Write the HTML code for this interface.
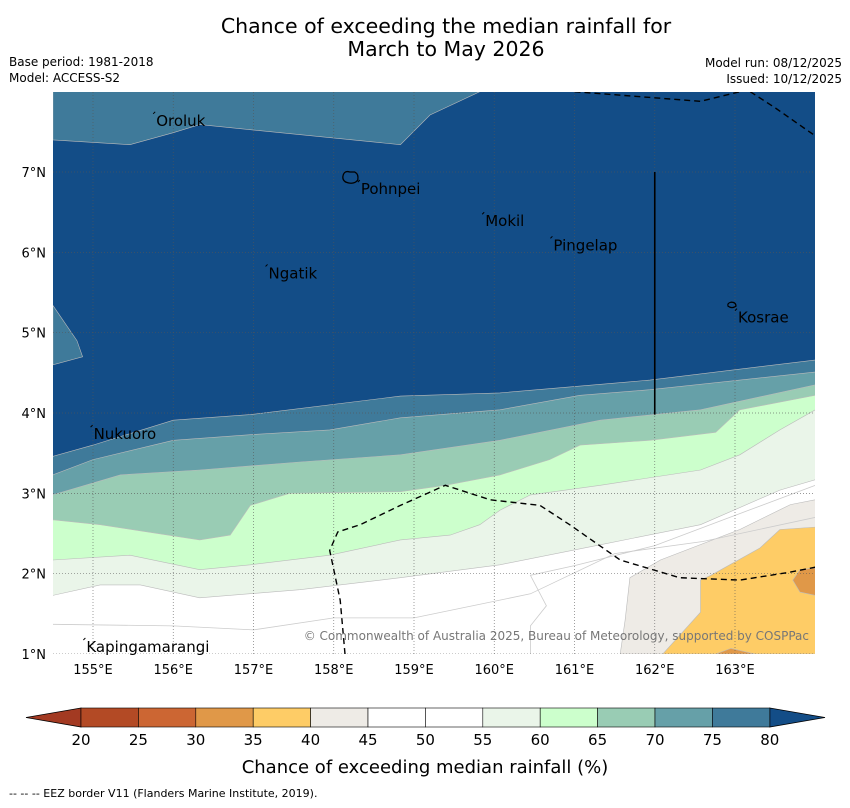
<!DOCTYPE html>
<html><head><meta charset="utf-8"><style>
body{margin:0;background:#fff;width:850px;height:804px;overflow:hidden;font-family:"DejaVu Sans","Liberation Sans",sans-serif}
svg text{font-family:"DejaVu Sans","Liberation Sans",sans-serif}
</style></head><body>
<svg id="c" width="850" height="804" viewBox="0 0 850 804" xmlns="http://www.w3.org/2000/svg">
<text x="446" y="33" font-size="20.5" text-anchor="middle">Chance of exceeding the median rainfall for</text>
<text x="446" y="56" font-size="20.5" text-anchor="middle">March to May 2026</text>
<text x="9" y="66" font-size="12">Base period: 1981-2018</text>
<text x="9" y="82" font-size="12">Model: ACCESS-S2</text>
<text x="842" y="67" font-size="12" text-anchor="end">Model run: 08/12/2025</text>
<text x="842" y="83" font-size="12" text-anchor="end">Issued: 10/12/2025</text>
<defs><clipPath id="mc"><rect x="53" y="92" width="762" height="562"/></clipPath></defs>
<g id="map" clip-path="url(#mc)"></g>
<g id="over"></g>
<text x="809" y="640" font-size="12" fill="#777" text-anchor="end">© Commonwealth of Australia 2025, Bureau of Meteorology, supported by COSPPac</text>
<g id="cbar"></g>
<text x="425" y="773" font-size="18" text-anchor="middle">Chance of exceeding median rainfall (%)</text>
<text x="9" y="797" font-size="11">--  --  -- EEZ border V11 (Flanders Marine Institute, 2019).</text>
</svg>
<script>
const lonTicks=[155,156,157,158,159,160,161,162,163];
const latTicks=[1,2,3,4,5,6,7];
const levels=[20,25,30,35,40,45,50,55,60,65,70,75,80];
const levelColors=["#b34a25","#cc6633","#e09848","#fecc66","#eeebe6","#ffffff","#ffffff","#eaf5e9","#ccffcc","#99ccb4","#66a0a8","#3f7a9a"];
const lowColor="#a33a22", highColor="#134d87";
const c80=[[154.5,3.46],[155,3.6],[156,3.91],[156.96,3.98],[158.83,4.21],[160.07,4.25],[161.94,4.41],[164,4.66]];
const c75=[[154.5,3.23],[155,3.42],[156,3.66],[156.96,3.73],[157.95,3.79],[158.83,3.94],[160.07,4.04],[161.07,4.22],[161.94,4.29],[164,4.51]];
const c70=[[154.5,2.98],[155.34,3.23],[156.33,3.29],[157.58,3.39],[158.83,3.48],[160.07,3.66],[161.32,3.91],[162.57,4.04],[164,4.35]];
const c65=[[154.5,2.67],[155.09,2.61],[156.33,2.42],[156.71,2.48],[156.96,2.85],[157.45,3.0],[158.83,3.02],[159.39,3.1],[160.07,3.23],[160.69,3.42],[161.07,3.6],[161.94,3.66],[162.76,3.76],[163.06,4.04],[164,4.22]];
const c60=[[154.5,2.17],[155.46,2.23],[156.33,2.05],[156.96,2.11],[157.95,2.23],[158.83,2.42],[159.45,2.48],[159.82,2.61],[160.07,2.79],[160.45,2.98],[161.32,3.1],[162.57,3.29],[163.06,3.48],[163.56,3.79],[164,4.04]];
const c55=[[154.5,1.73],[155.09,1.86],[155.59,1.86],[156.33,1.7],[157.58,1.8],[158.83,1.95],[160.07,2.11],[161.32,2.36],[162.57,2.61],[163.56,3.04],[164,3.17]];
const r40=[[161.57,1.0],[161.63,1.42],[161.69,1.95],[162.07,2.17],[163.06,2.55],[163.69,2.86],[164,2.92],[164,1.0]];
const r35=[[162.1,1.0],[162.57,1.52],[162.57,1.92],[162.7,1.98],[163.31,2.32],[163.56,2.55],[164,2.58],[164,1.0]];
const r30a=[[163.72,1.92],[163.81,2.05],[164,2.07],[164,1.73],[163.81,1.77]];
const r30b=[[162.76,1.0],[162.95,1.07],[163.25,1.0]];
const topBand=[[154.5,8],[154.5,7.4],[155.46,7.34],[156,7.49],[156.33,7.59],[158.83,7.34],[159.2,7.71],[159.82,8]];
const leftBulge=[[154.5,5.34],[154.8,4.9],[154.87,4.7],[154.5,4.6]];
const eez1=[[158.14,1.0],[158.08,1.67],[157.95,2.29],[158.05,2.52],[158.33,2.61],[158.83,2.85],[159.39,3.1],[159.95,2.92],[160.57,2.85],[160.94,2.61],[161.57,2.17],[162.31,1.95],[163.06,1.92],[163.69,2.02],[164.0,2.08]];
const eez2=[[161.0,8.0],[162.57,7.88],[163.06,8.0]];
const eez3=[[163.19,8.0],[163.5,7.8],[164,7.45]];
const places=[["Oroluk",155.75,7.65],["Pohnpei",158.3,6.8],["Mokil",159.85,6.4],["Pingelap",160.7,6.1],["Ngatik",157.15,5.75],["Kosrae",163.0,5.2],["Nukuoro",154.97,3.75],["Kapingamarangi",154.88,1.1]];

const X=lon=>93+(lon-155)*80.25, Y=lat=>654-(lat-1)*80.33;
const NS="http://www.w3.org/2000/svg";
function mk(tag,attrs,parent){const e=document.createElementNS(NS,tag);for(const k in attrs)e.setAttribute(k,attrs[k]);parent.appendChild(e);return e;}
const pts=a=>a.map(p=>X(p[0]).toFixed(1)+","+Y(p[1]).toFixed(1)).join(" ");
const map=document.getElementById('map'), over=document.getElementById('over');
let r=mk('rect',{x:53,y:92,width:762,height:562,fill:highColor},map);


function below(c,col,name){const p=c.concat([[164.5,0.5],[154,0.5]]);const e=mk('polygon',{points:pts(p),fill:col,stroke:"#bbb","stroke-width":0.6},map);

}
below(c80,levelColors[11],'band-75-80');
below(c75,levelColors[10],'band-70-75');
below(c70,levelColors[9],'band-65-70');
below(c65,levelColors[8],'band-60-65');
below(c60,levelColors[7],'band-55-60');
below(c55,levelColors[6],'band-50-55');
function region(a,col,name){const e=mk('polygon',{points:pts(a),fill:col,stroke:"#bbb","stroke-width":0.6},map);

}
region(topBand,levelColors[11],'band-75-80-north');
region(leftBulge,levelColors[11],'band-75-80-west');
region(r40,levelColors[4],'band-40-45');
region(r35,levelColors[3],'band-35-40');
region(r30a,levelColors[2],'band-30-35-east');
region(r30b,levelColors[2],'band-30-35-south');
let l=mk('polyline',{points:pts([[154.5,1.37],[156,1.35],[157,1.3],[158,1.45],[159,1.45],[160.45,1.75],[161.5,2.25],[162.6,2.4],[164,2.7]]),fill:"none",stroke:"#ccc","stroke-width":0.8},map);


l=mk('polyline',{points:pts([[160.45,1.0],[160.45,1.35],[160.65,1.6],[160.45,1.98],[161.0,2.1],[162,2.35],[163.2,2.8],[164,3.1]]),fill:"none",stroke:"#ccc","stroke-width":0.8},map);


lonTicks.forEach(v=>{const g=mk('line',{x1:X(v),x2:X(v),y1:92,y2:654,stroke:"#555","stroke-width":0.7,"stroke-dasharray":"1,2",opacity:0.8},map);

});
latTicks.forEach(v=>{const g=mk('line',{x1:53,x2:815,y1:Y(v),y2:Y(v),stroke:"#555","stroke-width":0.7,"stroke-dasharray":"1,2",opacity:0.8},map);

});
[eez1,eez2,eez3].forEach(a=>{const e=mk('polyline',{points:pts(a),fill:"none",stroke:"#000","stroke-width":1.4,"stroke-dasharray":"6,4"},map);

});
let v=mk('line',{x1:X(162),x2:X(162),y1:Y(7),y2:Y(3.98),stroke:"#000","stroke-width":1.6},map);


let is=mk('path',{d:`M${X(158.2)},${Y(7.0)} q-6,-2 -7,5 q0,5 6,6 q6,1 9,-3 q1,-6 -3,-8 z`,fill:"none",stroke:"#000","stroke-width":1.3},map);


is=mk('path',{d:`M${X(162.95)},${Y(5.38)} q-4,1 -3,4 q4,3 8,0 q0,-4 -5,-4 z`,fill:"none",stroke:"#000","stroke-width":1.2},map);


places.forEach(p=>{const t=mk('text',{x:X(p[1])+3,y:Y(p[2])+6,"font-size":15,fill:"#000"},over);t.textContent=p[0];


const d=mk('line',{x1:X(p[1]),y1:Y(p[2])-6,x2:X(p[1])+2,y2:Y(p[2])-8,stroke:"#000","stroke-width":1},over);

});
lonTicks.forEach(v=>{const t=mk('text',{x:X(v),y:674,"font-size":13,"text-anchor":"middle"},over);t.textContent=v+"°E";

});
latTicks.forEach(v=>{const t=mk('text',{x:46,y:Y(v)+5,"font-size":13,"text-anchor":"end"},over);t.textContent=v+"°N";

});
const cb=document.getElementById('cbar');
const cx=l=>81+(l-20)*11.48, cy=708, ch=19;
let a=mk('polygon',{points:`${cx(20)},${cy} 26,${cy+ch/2} ${cx(20)},${cy+ch}`,fill:lowColor,stroke:"#000","stroke-width":0.8},cb);


a=mk('polygon',{points:`${cx(80)},${cy} 825,${cy+ch/2} ${cx(80)},${cy+ch}`,fill:highColor,stroke:"#000","stroke-width":0.8},cb);


levelColors.forEach((c,i)=>{const b=mk('rect',{x:cx(levels[i]),y:cy,width:cx(levels[i+1])-cx(levels[i]),height:ch,fill:c,stroke:"#000","stroke-width":0.6},cb);

});
levels.forEach(l=>{const t=mk('text',{x:cx(l),y:745,"font-size":15,"text-anchor":"middle"},cb);t.textContent=l;

});
</script>
</body></html>
